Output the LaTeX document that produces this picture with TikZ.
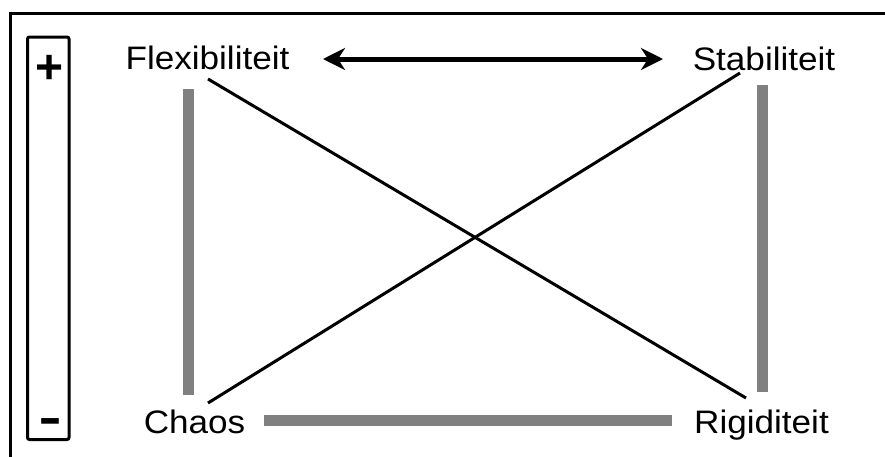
\documentclass[tikz,border=0pt]{standalone}
\usepackage{fontspec}
\setmainfont{Liberation Sans}
\newfontfamily\lblfont[FakeStretch=1.08]{Liberation Sans}
\usetikzlibrary{arrows.meta}
\definecolor{bargray}{RGB}{128,128,128}
\tikzset{
  lbl/.style={inner sep=0pt, anchor=base, font=\lblfont\fontsize{32.5}{36}\selectfont},
  sign/.style={inner sep=0pt, anchor=base},
  bar/.style={draw=bargray, line width=11pt},
  cross/.style={draw=black, line width=3pt},
  frame/.style={draw=black, line width=3pt},
  dblarrow/.style={draw=black, line width=5pt, {Stealth[length=22pt,width=22pt,inset=7pt]}-{Stealth[length=22pt,width=22pt,inset=7pt]}}
}
\begin{document}
\begin{tikzpicture}[x=1pt,y=-1pt]
\useasboundingbox (0,0) rectangle (885,456);
\clip (0,0) rectangle (885,456);
\fill[white] (0,0) rectangle (885,456);
% outer frame (extends beyond the picture)
\draw[frame] (10.5,13.5) rectangle (900,480);
% scale box
\draw[frame, rounded corners=2pt] (27.5,37) rectangle (69,439.5);
\node[sign, font=\bfseries\fontsize{48}{50}\selectfont] (plus) at (50,83) {+};
\node[sign, font=\fontsize{72}{74}\selectfont] (minus) at (50,440.5) {-};
% labels
\node[lbl] (flex) at (207.5,69) {Flexibiliteit};
\node[lbl] (stab) at (764,70) {Stabiliteit};
\node[lbl] (chaos) at (194.5,433) {Chaos};
\node[lbl] (rigid) at (761.5,433) {Rigiditeit};
% connector endpoints
\coordinate (aL) at (323,59);
\coordinate (aR) at (663,59);
\coordinate (flexB) at (208,79);
\coordinate (rigidT) at (746,398);
\coordinate (stabB) at (740,73);
\coordinate (chaosT) at (208,403);
\coordinate (lbT) at (188.5,89);
\coordinate (lbB) at (188.5,395);
\coordinate (rbT) at (762.5,85);
\coordinate (rbB) at (762.5,392);
\coordinate (hbL) at (264,420);
\coordinate (hbR) at (672,420);
% gray bars
\draw[bar] (lbT) -- (lbB);
\draw[bar] (rbT) -- (rbB);
\draw[bar] (hbL) -- (hbR);
% diagonals
\draw[cross] (flexB) -- (rigidT);
\draw[cross] (stabB) -- (chaosT);
% double arrow
\draw[dblarrow] (aL) -- (aR);
\end{tikzpicture}
\end{document}
